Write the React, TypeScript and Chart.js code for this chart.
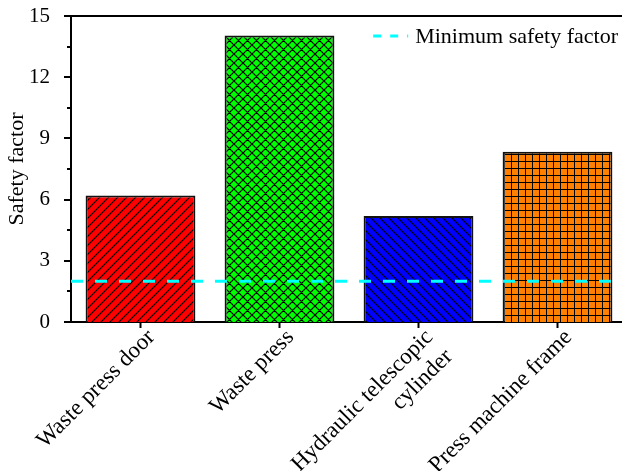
import React, { useEffect, useRef } from "react";
import { Chart, registerables } from "chart.js";

Chart.register(...registerables);

const categories: (string | string[])[] = [
  "Waste press door",
  "Waste press",
  ["Hydraulic telescopic", "cylinder"],
  "Press machine frame",
];
const safetyFactors = [6.2, 14.05, 5.2, 8.35];
const barColors = ["#FF0000", "#00FF00", "#0000FF", "#FF8000"];
const barHatches = ["fdiag", "cross", "bdiag", "grid"];
const minSafetyFactor = 2;
const minSafetyLabel = "Minimum safety factor";
const yTicks = [0, 3, 6, 9, 12, 15];
const yMinorTicks = [1.5, 4.5, 7.5, 10.5, 13.5];
const yAxisTitle = "Safety factor";

const FONT = "'Liberation Serif', 'Times New Roman', serif";

function makePattern(color: string, kind: string): CanvasPattern | string {
  const s = kind === "grid" ? 7 : 9;
  const c = document.createElement("canvas");
  c.width = s;
  c.height = s;
  const g = c.getContext("2d");
  if (!g) return color;
  g.fillStyle = color;
  g.fillRect(0, 0, s, s);
  g.strokeStyle = "#000";
  g.fillStyle = "#000";
  g.lineWidth = 1.2;
  if (kind === "grid") {
    g.fillRect(0, 0, s, 1);
    g.fillRect(0, 0, 1, s);
  } else {
    g.beginPath();
    if (kind === "fdiag" || kind === "cross") {
      g.moveTo(-1, s + 1);
      g.lineTo(s + 1, -1);
      g.moveTo(-1, 1);
      g.lineTo(1, -1);
      g.moveTo(s - 1, s + 1);
      g.lineTo(s + 1, s - 1);
    }
    if (kind === "bdiag" || kind === "cross") {
      g.moveTo(-1, -1);
      g.lineTo(s + 1, s + 1);
      g.moveTo(s - 1, -1);
      g.lineTo(s + 1, 1);
      g.moveTo(-1, s - 1);
      g.lineTo(1, s + 1);
    }
    g.stroke();
  }
  const p = g.createPattern(c, "repeat");
  return p || color;
}

const overlayPlugin = {
  id: "overlay",
  afterDatasetsDraw(chart: any) {
    const { ctx, chartArea, scales } = chart;
    const y = scales.y.getPixelForValue(minSafetyFactor);
    ctx.save();
    ctx.strokeStyle = "#00FFFF";
    ctx.lineWidth = 3;
    ctx.setLineDash([12, 12]);
    ctx.beginPath();
    ctx.moveTo(chartArea.left, y);
    ctx.lineTo(chartArea.right, y);
    ctx.stroke();
    ctx.restore();
  },
  afterDraw(chart: any) {
    const { ctx, chartArea, scales } = chart;
    const ys = scales.y;
    ctx.save();
    ctx.strokeStyle = "#000";
    ctx.lineWidth = 2;
    // top frame
    ctx.beginPath();
    ctx.moveTo(chartArea.left - 1, chartArea.top);
    ctx.lineTo(chartArea.right, chartArea.top);
    ctx.stroke();
    // y ticks
    ctx.beginPath();
    yTicks.forEach((v) => {
      const py = Math.round(ys.getPixelForValue(v));
      ctx.moveTo(chartArea.left - 7, py);
      ctx.lineTo(chartArea.left, py);
    });
    yMinorTicks.forEach((v) => {
      const py = Math.round(ys.getPixelForValue(v));
      ctx.moveTo(chartArea.left - 4, py);
      ctx.lineTo(chartArea.left, py);
    });
    ctx.stroke();
    // legend
    ctx.font = `22px ${FONT}`;
    ctx.fillStyle = "#000";
    ctx.textAlign = "left";
    ctx.textBaseline = "alphabetic";
    const w = ctx.measureText(minSafetyLabel).width;
    const tx = chartArea.right - 9 - w;
    ctx.fillText(minSafetyLabel, tx, chartArea.top + 27);
    ctx.strokeStyle = "#00FFFF";
    ctx.lineWidth = 3;
    ctx.setLineDash([8, 9]);
    ctx.beginPath();
    ctx.moveTo(tx - 42, chartArea.top + 20);
    ctx.lineTo(tx - 7, chartArea.top + 20);
    ctx.stroke();
    ctx.restore();
  },
};

export default function App() {
  const ref = useRef<HTMLCanvasElement | null>(null);
  useEffect(() => {
    const canvas = ref.current;
    if (!canvas) return;
    const patterns = barColors.map((c, i) => makePattern(c, barHatches[i]));
    const chart = new Chart(canvas, {
      type: "bar",
      data: {
        labels: categories as any,
        datasets: [
          {
            data: safetyFactors,
            backgroundColor: patterns as any,
            borderColor: "#111",
            borderWidth: 2,
            barPercentage: 0.79,
            categoryPercentage: 1,
          },
        ],
      },
      options: {
        responsive: false,
        animation: false,
        devicePixelRatio: 1,
        layout: { padding: { top: 16, right: 3, left: 0, bottom: 0 } },
        plugins: { legend: { display: false }, tooltip: { enabled: false } },
        scales: {
          x: {
            grid: {
              display: true,
              drawOnChartArea: false,
              drawTicks: true,
              tickLength: 6,
              tickWidth: 2,
              tickColor: "#000",
              offset: false,
            },
            border: { display: true, color: "#000", width: 2 },
            ticks: {
              color: "#000",
              font: { family: FONT, size: 23 },
              minRotation: 45,
              maxRotation: 45,
              padding: -4,
              labelOffset: 11,
              autoSkip: false,
            },
            afterFit: (s: any) => {
              s.height = 149;
              s.paddingTop = 0;
              s.paddingBottom = 0;
            },
          },
          y: {
            min: 0,
            max: 15,
            afterBuildTicks: (s: any) => {
              s.ticks = yTicks.map((v) => ({ value: v }));
            },
            grid: { display: false },
            border: { display: true, color: "#000", width: 2 },
            ticks: {
              color: "#000",
              font: { family: FONT, size: 21 },
              padding: 13,
            },
            title: {
              display: true,
              text: yAxisTitle,
              color: "#000",
              font: { family: FONT, size: 22 },
              padding: { top: 4, bottom: 0 },
            },
            afterFit: (s: any) => {
              s.width = 71;
              s.paddingTop = 0;
              s.paddingBottom = 0;
            },
          },
        },
      },
      plugins: [overlayPlugin],
    });
    return () => chart.destroy();
  }, []);
  return (
    <div
      style={{
        position: "fixed",
        left: 0,
        top: 0,
        width: 622,
        height: 471,
        overflow: "hidden",
        background: "#fff",
      }}
    >
      <canvas ref={ref} width={630} height={471} style={{ display: "block" }} />
    </div>
  );
}
